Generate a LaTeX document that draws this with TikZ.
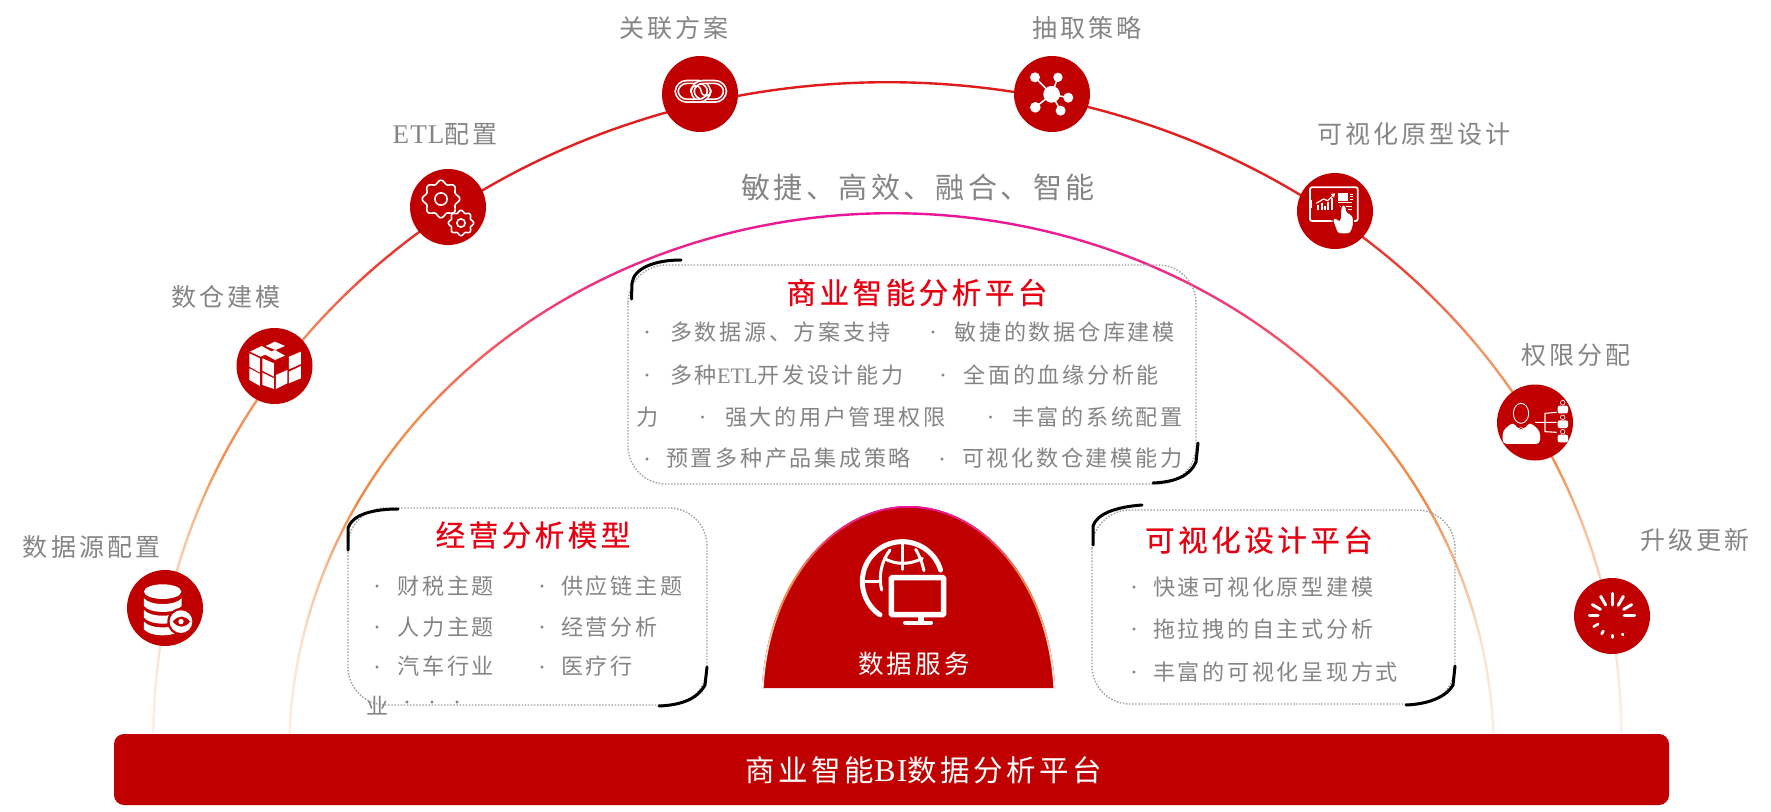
\documentclass[tikz,border=0pt]{standalone}
\usepackage{fontspec}
\newfontfamily\cjk[LetterSpace=12]{Noto Sans CJK SC}
\newfontfamily\cjkt[LetterSpace=12,FakeBold=0.5]{Noto Sans CJK SC}
\newfontfamily\lat{Liberation Serif}
\newfontfamily\latsp[LetterSpace=4,Scale=1.08]{Liberation Serif}
\definecolor{cred}{HTML}{C00000}
\definecolor{tred}{HTML}{E60012}
\definecolor{tgray}{HTML}{858585}
\definecolor{dotg}{HTML}{A0A0A0}
\definecolor{oa}{HTML}{E01B1B}\definecolor{ob}{HTML}{E42525}\definecolor{oc}{HTML}{E8453A}\definecolor{od}{HTML}{F09A68}
\definecolor{oe}{HTML}{F08F4F}\definecolor{of}{HTML}{F7BD96}\definecolor{og}{HTML}{FBDCC6}\definecolor{oh}{HTML}{FEF0E6}
\definecolor{ia}{HTML}{E9149A}\definecolor{ib}{HTML}{EE2E85}\definecolor{ic}{HTML}{F25A60}\definecolor{id}{HTML}{F0904F}
\definecolor{ie}{HTML}{EE8A44}\definecolor{if}{HTML}{F5B388}\definecolor{ig}{HTML}{FCE0CC}
\pgfdeclareverticalshading{outerg}{100bp}{color(0bp)=(oh);color(25bp)=(oh);color(35.2bp)=(og);color(41.1bp)=(of);color(45.9bp)=(oe);color(54.6bp)=(od);color(60.5bp)=(oc);color(65.1bp)=(ob);color(75bp)=(oa);color(100bp)=(oa)}
\pgfdeclareverticalshading{innerg}{100bp}{color(0bp)=(oh);color(25bp)=(oh);color(35.4bp)=(ig);color(42.8bp)=(if);color(48.3bp)=(ie);color(55.7bp)=(id);color(62.2bp)=(ic);color(68.7bp)=(ib);color(75bp)=(ia);color(100bp)=(ia)}
% cx, cy, a, b, thickness, shading, from, to
\newcommand\ringarc[8]{\shade[shading=#6] plot[domain=#7:#8,samples=181] ({#1+#3*cos(\x)},{#2+#4*sin(\x)}) -- plot[domain=#8:#7,samples=181] ({#1+(#3-#5)*cos(\x)},{#2+(#4-#5)*sin(\x)}) -- cycle;}
\newcommand\geargly[3]{\draw[white,line width=1.6pt] plot[domain=0:360,samples=121] ({#1+#3*(1+0.1*cos(8*\x))*cos(\x)},{#2+#3*(1+0.1*cos(8*\x))*sin(\x)}) -- cycle;
  \draw[white,line width=1.6pt] (#1,#2) circle ({#3*0.36});}
\tikzset{
  badge/.style={circle,fill=cred,minimum size=76pt,inner sep=0pt},
  lbl/.style={inner sep=0pt,text=tgray,font=\cjk\fontsize{25}{30}\selectfont},
  slog/.style={inner sep=0pt,text=tgray,font=\cjk\fontsize{29}{34}\selectfont},
  ttl/.style={inner sep=0pt,text=tred,font=\cjkt\fontsize{29.5}{34}\selectfont},
  itm/.style={anchor=west,inner sep=0pt,text=tgray,font=\cjk\fontsize{22.1}{26}\selectfont},
  bul/.style={inner sep=0pt,yshift=-4pt,text=tgray,font=\lat\fontsize{24}{28}\selectfont},
  panel/.style={draw=dotg,line width=1.4pt,dash pattern=on 1.5pt off 1.6pt,rounded corners=38pt},
  corner/.style={draw=black,line width=3pt,line cap=round},
}
\begin{document}
\begin{tikzpicture}[x=1pt,y=-1pt]
\useasboundingbox (0,0) rectangle (1771,811);
\fill[white] (0,0) rectangle (1771,811);
% arcs
\ringarc{887.5}{733}{735}{652}{2.4}{outerg}{180}{360}
\ringarc{891.5}{752}{603.5}{540}{2.4}{innerg}{180}{360}
% bar
\node[fill=cred,rounded corners=10pt,minimum width=1555pt,minimum height=71pt,inner sep=0pt] (bar) at (891.5,769.5) {};
\node[inner sep=0pt,text=white,font=\cjk\fontsize{29.5}{34}\selectfont] (bartext) at (924,770) {商业智能{\latsp BI}数据分析平台};
% dome
\fill[cred] plot[domain=183.8:356.2,samples=121] ({908.5+147*cos(\x)},{701+195*sin(\x)}) -- cycle;
\ringarc{908.5}{701}{147}{195}{1.8}{innerg}{183.8}{356.2}
\node[inner sep=0pt,text=white,font=\cjk\fontsize{25.5}{30}\selectfont] (dometext) at (914,664) {数据服务};
% globe
\begin{scope}[shift={(845,530)},scale=0.3333]
\draw[white,line width=5pt,line cap=round] plot[domain=-17:-236,samples=80] ({172+120*cos(\x)},{155+120*sin(\x)});
\draw[white,line width=3pt,line cap=round] (118,85) .. controls (150,105) and (195,105) .. (232,85);
\draw[white,line width=3pt,line cap=round] (172,38) -- (172,118);
\draw[white,line width=3pt,line cap=round] (135,60) .. controls (108,95) and (100,140) .. (110,180);
\draw[white,line width=3pt,line cap=round] (212,58) .. controls (225,80) and (232,100) .. (237,122);
\draw[white,line width=3pt] (55,155) -- (110,155);
\draw[white,line width=5.5pt,fill=cred,rounded corners=1pt] (139,143) rectangle (296,254);
\fill[white] (218,256) rectangle (238,278);
\draw[white,line width=4pt,line cap=round] (180,278) -- (258,278);
\end{scope}
% badges
\node[badge] (link) at (700,94) {};
\node[badge] (mol) at (1052,94) {};
\node[badge] (gear) at (448,207) {};
\node[badge] (tablet) at (1335,211) {};
\node[badge] (cube) at (274.5,366) {};
\node[badge] (person) at (1535,422.5) {};
\node[badge] (db) at (165,608) {};
\node[badge] (spin) at (1612,616) {};
% link icon
\begin{scope}[shift={(660,60)},scale=0.3333]
\tikzset{lk/.style={draw=white,line width=1.7pt,double=cred,double distance=1.1pt,rounded corners=10pt}}
\draw[lk] (50,66) rectangle (147,122);
\draw[lk] (98,66) rectangle (195,122);
\begin{scope}\clip (100,92) rectangle (160,130);\draw[lk] (50,66) rectangle (147,122);\end{scope}
\draw[white,line width=1.5pt,line cap=round] (92,96) .. controls (90,74) and (120,70) .. (123,92) .. controls (126,114) and (155,112) .. (153,90);
\end{scope}
% molecule icon
\begin{scope}[shift={(600,0)},scale=0.3333]
\draw[white,line width=1.5pt] (1305,232)--(1355,283) (1374,232)--(1355,283) (1405,293)--(1355,283) (1382,332)--(1355,283) (1306,322)--(1355,283);
\fill[white] (1355,283) circle (25) (1305,232) circle (15) (1374,232) circle (14) (1405,293) circle (15) (1382,332) circle (15) (1306,322) circle (16);
\end{scope}
% gears
\geargly{441}{199}{17}
\geargly{461}{223}{11.5}
% cube
\begin{scope}[shift={(100,150)},scale=0.3333]
\fill[white] (497,588)--(525,575)--(555,588)--(527,600)--cycle
 (450,605)--(485,588)--(515,605)--(482,620)--cycle
 (492,612)--(525,600)--(555,617)--(525,630)--cycle
 (448,610)--(480,625)--(480,668)--(448,650)--cycle
 (487,625)--(522,640)--(522,680)--(487,662)--cycle
 (448,655)--(480,672)--(480,708)--(448,690)--cycle
 (487,668)--(522,685)--(522,717)--(487,705)--cycle
 (567,620)--(603,605)--(603,642)--(567,658)--cycle
 (528,675)--(562,660)--(562,700)--(528,717)--cycle
 (567,665)--(603,648)--(603,685)--(567,700)--cycle;
\end{scope}
% database
\begin{scope}[shift={(100,150)},scale=0.3333]
\fill[white] (188,1325) ellipse[x radius=56,y radius=22];
\foreach \d in {0,35,70}{
\fill[white] (132,1345+\d) .. controls (150,1368+\d) and (226,1368+\d) .. (245,1345+\d) -- (245,1368+\d) .. controls (226,1392+\d) and (150,1392+\d) .. (132,1368+\d) -- cycle;}
\fill[cred] (243,1415) circle (41);
\fill[white] (243,1415) circle (34);
\fill[cred] (218,1415) .. controls (235,1395) and (255,1395) .. (270,1415) .. controls (255,1435) and (235,1435) .. cycle;
\fill[white] (243,1415) circle (8);
\end{scope}
% tablet
\begin{scope}[shift={(1295,170)},scale=0.3333]
\draw[white,line width=1.8pt,rounded corners=2pt] (45,52) rectangle (188,153);
\draw[white,line width=1pt] (50,90) -- (50,115);
\draw[white,line width=1.2pt] (64,100)--(85,87)--(98,92)--(114,76);
\fill[white] (120,70)--(107,72)--(117,83)--cycle;
\foreach \bx/\bt in {70/105,80/100,90/108,100/95,110/85}{\fill[white] (\bx-3,\bt) rectangle (\bx+3,120);}
\fill[white] (128,70) rectangle (160,92);
\draw[white,line width=0.8pt] (165,72)--(175,72) (165,80)--(175,80) (165,88)--(175,88) (130,98)--(172,98) (135,108)--(172,108) (158,118)--(172,118);
\draw[cred,line width=1pt,fill=white,rounded corners=3pt] (138,112)--(140,104)--(152,104)--(155,128)--(174,135)--(176,165)--(166,192)--(128,192)--(112,150)--(118,140)--(135,155)--cycle;
\end{scope}
% person
\begin{scope}[shift={(1490,380)},scale=0.3333]
\draw[white,line width=0.9pt] (93,100) ellipse[x radius=23,y radius=30];
\fill[white,rounded corners=4pt] (38,192)--(38,152)--(70,126)--(85,150)--(93,142)--(102,150)--(118,126)--(150,152)--(150,192)--cycle;
\draw[white,line width=1.1pt] (135,127)--(200,127) (165,127)--(165,100)--(200,97) (165,127)--(165,155)--(200,157);
\foreach \py in {68,112,155}{
\draw[white,line width=0.6pt] (218,\py) circle (7);
\fill[white,rounded corners=2pt] (203,\py+9) rectangle (234,\py+32);}
\end{scope}
% spinner
\begin{scope}[shift={(1570,520)},scale=0.3333]
\foreach \ang/\ri/\ro/\wd in {0/33/68/3,30/37/68/3,60/40/68/3,90/36/68/3,150/62/66/2.6,180/58/64/3,210/52/62/2.8,240/48/64/2.6,270/42/68/3,300/40/68/3,330/38/68/3}{
\draw[white,line width=\wd pt,line cap=round] ({126+\ri*sin(\ang)},{288-\ri*cos(\ang)}) -- ({126+\ro*sin(\ang)},{288-\ro*cos(\ang)});}
\end{scope}
% labels
\node[lbl] (l1) at (674,28) {关联方案};
\node[lbl] (l2) at (1087,28) {抽取策略};
\node[lbl] (l3) at (445,134) {{\latsp ETL}配置};
\node[lbl] (l4) at (1414,134) {可视化原型设计};
\node[lbl] (l5) at (226,297) {数仓建模};
\node[lbl] (l6) at (1576,355) {权限分配};
\node[lbl] (l7) at (91.5,547) {数据源配置};
\node[lbl] (l8) at (1695,540) {升级更新};
\node[slog] (slogan) at (918,187.5) {敏捷、高效、融合、智能};
% panels
\draw[panel] (628,265) rectangle (1196,484);
\draw[panel] (348,508) rectangle (707,705);
\draw[panel] (1092,510) rectangle (1455,704);
\draw[corner] (631.5,299) -- (632,283) .. controls (634,268) and (655,260) .. (681,260);
\draw[corner] (1198,443) -- (1196,462) .. controls (1190,476) and (1175,482) .. (1153,483);
\draw[corner] (348,550) -- (348,528) .. controls (352,515) and (372,509) .. (398,509);
\draw[corner] (707,667) -- (705,685) .. controls (698,698) and (683,705) .. (659,706);
\draw[corner] (1093,545) -- (1093,526) .. controls (1097,514) and (1115,507) .. (1142,505);
\draw[corner] (1455,666) -- (1453,685) .. controls (1447,696) and (1430,704) .. (1406,705);
% top panel text
\node[ttl] (t1) at (917,292.5) {商业智能分析平台};
\node[bul] (a1) at (647,332) {·};
\node[itm] (a2) at (670,332) {多数据源、方案支持};
\node[bul] (a3) at (933,332) {·};
\node[itm] (a4) at (954.5,332) {敏捷的数据仓库建模};
\node[bul] (b1) at (647,375) {·};
\node[itm] (b2) at (670,375) {多种{\lat ETL}开发设计能力};
\node[bul] (b3) at (943,375) {·};
\node[itm] (b4) at (963.5,375) {全面的血缘分析能};
\node[itm] (c1) at (636,417) {力};
\node[bul] (c2) at (702.5,417) {·};
\node[itm] (c3) at (725,417) {强大的用户管理权限};
\node[bul] (c4) at (990.5,417) {·};
\node[itm] (c5) at (1012,417) {丰富的系统配置};
\node[bul] (d1) at (647,458.5) {·};
\node[itm] (d2) at (666,458.5) {预置多种产品集成策略};
\node[bul] (d3) at (942,458.5) {·};
\node[itm] (d4) at (962,458.5) {可视化数仓建模能力};
% left panel text
\node[ttl] (t2) at (533,535) {经营分析模型};
\node[bul] (e1) at (377,586) {·};
\node[itm] (e2) at (397.5,586) {财税主题};
\node[bul] (e3) at (542,586) {·};
\node[itm] (e4) at (561,586) {供应链主题};
\node[bul] (f1) at (377,627) {·};
\node[itm] (f2) at (397.5,627) {人力主题};
\node[bul] (f3) at (542,627) {·};
\node[itm] (f4) at (561,627) {经营分析};
\node[bul] (g1) at (377,666.5) {·};
\node[itm] (g2) at (397.5,666.5) {汽车行业};
\node[bul] (g3) at (542,666.5) {·};
\node[itm] (g4) at (561,666.5) {医疗行};
\node[itm] (h1) at (366,706) {业};
\node[bul] (h2) at (407,702) {·};
\node[bul] (h3) at (432,702) {·};
\node[bul] (h4) at (457,702) {·};
% right panel text
\node[ttl] (t3) at (1259,540) {可视化设计平台};
\node[bul] (r1) at (1134,587) {·};
\node[itm] (r2) at (1153,587) {快速可视化原型建模};
\node[bul] (r3) at (1134,629) {·};
\node[itm] (r4) at (1153,629) {拖拉拽的自主式分析};
\node[bul] (r5) at (1134,672) {·};
\node[itm] (r6) at (1153,672) {丰富的可视化呈现方式};
\end{tikzpicture}
\end{document}
